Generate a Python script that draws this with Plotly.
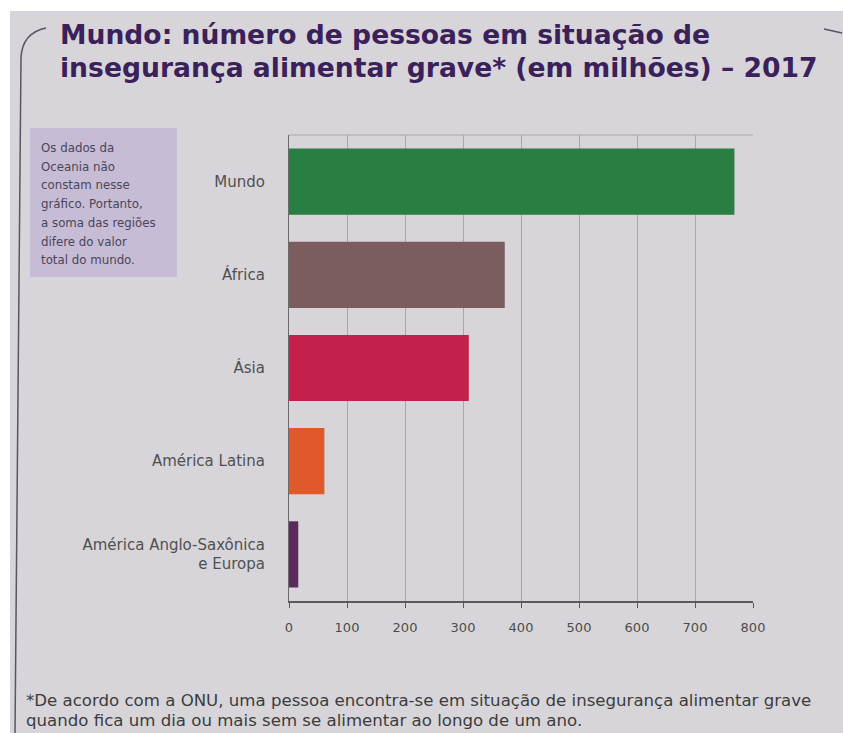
import plotly.graph_objects as go

# Pessoas em situação de insegurança alimentar grave, 2017 (milhões)
categorias = ["Mundo", "África", "Ásia", "América Latina", "América Anglo-Saxônica<br>e Europa"]
valores = [768, 372, 310, 61, 16]
cores = ["#2b7e42", "#7b5d60", "#c3214b", "#e0592b", "#5b2a5c"]
ticks_x = [0, 100, 200, 300, 400, 500, 600, 700, 800]

titulo = ["Mundo: número de pessoas em situação de",
          "insegurança alimentar grave* (em milhões) – 2017"]
nota = ["Os dados da", "Oceania não", "constam nesse", "gráfico. Portanto,",
        "a soma das regiões", "difere do valor", "total do mundo."]
rodape = ["*De acordo com a ONU, uma pessoa encontra-se em situação de insegurança alimentar grave",
          "quando fica um dia ou mais sem se alimentar ao longo de um ano."]

W, H = 843, 733
FONTE = "DejaVu Sans"


def px(x):
    return x / W


def py(y):
    return 1 - y / H


fig = go.Figure(
    go.Bar(
        x=valores,
        y=categorias,
        orientation="h",
        marker=dict(color=cores, line=dict(width=0)),
        hoverinfo="x+y",
    )
)

bg = "#d7d5da"
fig.update_layout(
    width=W,
    height=H,
    margin=dict(l=0, r=0, t=0, b=0),
    paper_bgcolor="white",
    plot_bgcolor=bg,
    showlegend=False,
    bargap=0.29,
    font=dict(family=FONTE, color="#4a4a4a"),
    xaxis=dict(
        domain=[px(289), px(753)],
        range=[0, 800],
        tickvals=ticks_x,
        showgrid=True,
        gridcolor="#a9a7ac",
        gridwidth=1,
        showline=True,
        linecolor="#5a5a5a",
        linewidth=1.5,
        ticks="outside",
        ticklen=5,
        tickcolor="#5a5a5a",
        ticklabelstandoff=9,
        tickfont=dict(family=FONTE, size=13, color="#4d4d4d"),
        zeroline=False,
        automargin=False,
        fixedrange=True,
    ),
    yaxis=dict(
        domain=[py(601), py(135)],
        autorange="reversed",
        showline=True,
        linecolor="#6a6a6a",
        linewidth=1.2,
        showgrid=False,
        ticks="",
        ticklabelstandoff=20,
        tickfont=dict(family=FONTE, size=15, color="#505050"),
        automargin=False,
        fixedrange=True,
    ),
)

shapes = [
    # page background
    dict(type="rect", xref="paper", yref="paper", x0=px(10), x1=1, y0=0, y1=py(11),
         fillcolor=bg, line=dict(width=0), layer="below"),
    # left bracket framing the figure
    dict(type="path", xref="paper", yref="paper",
         path=f"M {px(46)},{py(28)} Q {px(22)},{py(33)} {px(21)},{py(58)} L {px(15)},{py(733)}",
         line=dict(color="#5a5560", width=1.5)),
    # small mark at top right
    dict(type="line", xref="paper", yref="paper", x0=px(824), x1=px(842), y0=py(29), y1=py(33),
         line=dict(color="#5a5560", width=1.5)),
    # top border of the plot area
    dict(type="line", xref="paper", yref="paper", x0=px(289), x1=px(753), y0=py(135), y1=py(135),
         line=dict(color="#a9a7ac", width=1)),
    # note box
    dict(type="rect", xref="paper", yref="paper", x0=px(30), x1=px(177), y0=py(277), y1=py(128),
         fillcolor="#c6bcd6", line=dict(width=0)),
]
fig.update_layout(shapes=shapes)

# title, two lines
for i, linha in enumerate(titulo):
    fig.add_annotation(
        xref="paper", yref="paper", x=px(58), y=py(35 + 32 * i), xanchor="left", yanchor="middle",
        text=f"<b>{linha}</b>", showarrow=False, align="left",
        font=dict(family=FONTE, size=26.6, color="#3b2159"),
    )

# side note inside the box
for i, linha in enumerate(nota):
    fig.add_annotation(
        xref="paper", yref="paper", x=px(39), y=py(148 + 18.7 * i), xanchor="left", yanchor="middle",
        text=linha, showarrow=False, align="left",
        font=dict(family=FONTE, size=11.8, color="#4b4558"),
    )

# footnote
for i, linha in enumerate(rodape):
    fig.add_annotation(
        xref="paper", yref="paper", x=px(24), y=py(700 + 20 * i), xanchor="left", yanchor="middle",
        text=linha, showarrow=False, align="left",
        font=dict(family=FONTE, size=16.6, color="#3c3c3c"),
    )

fig.write_html("out.html")
